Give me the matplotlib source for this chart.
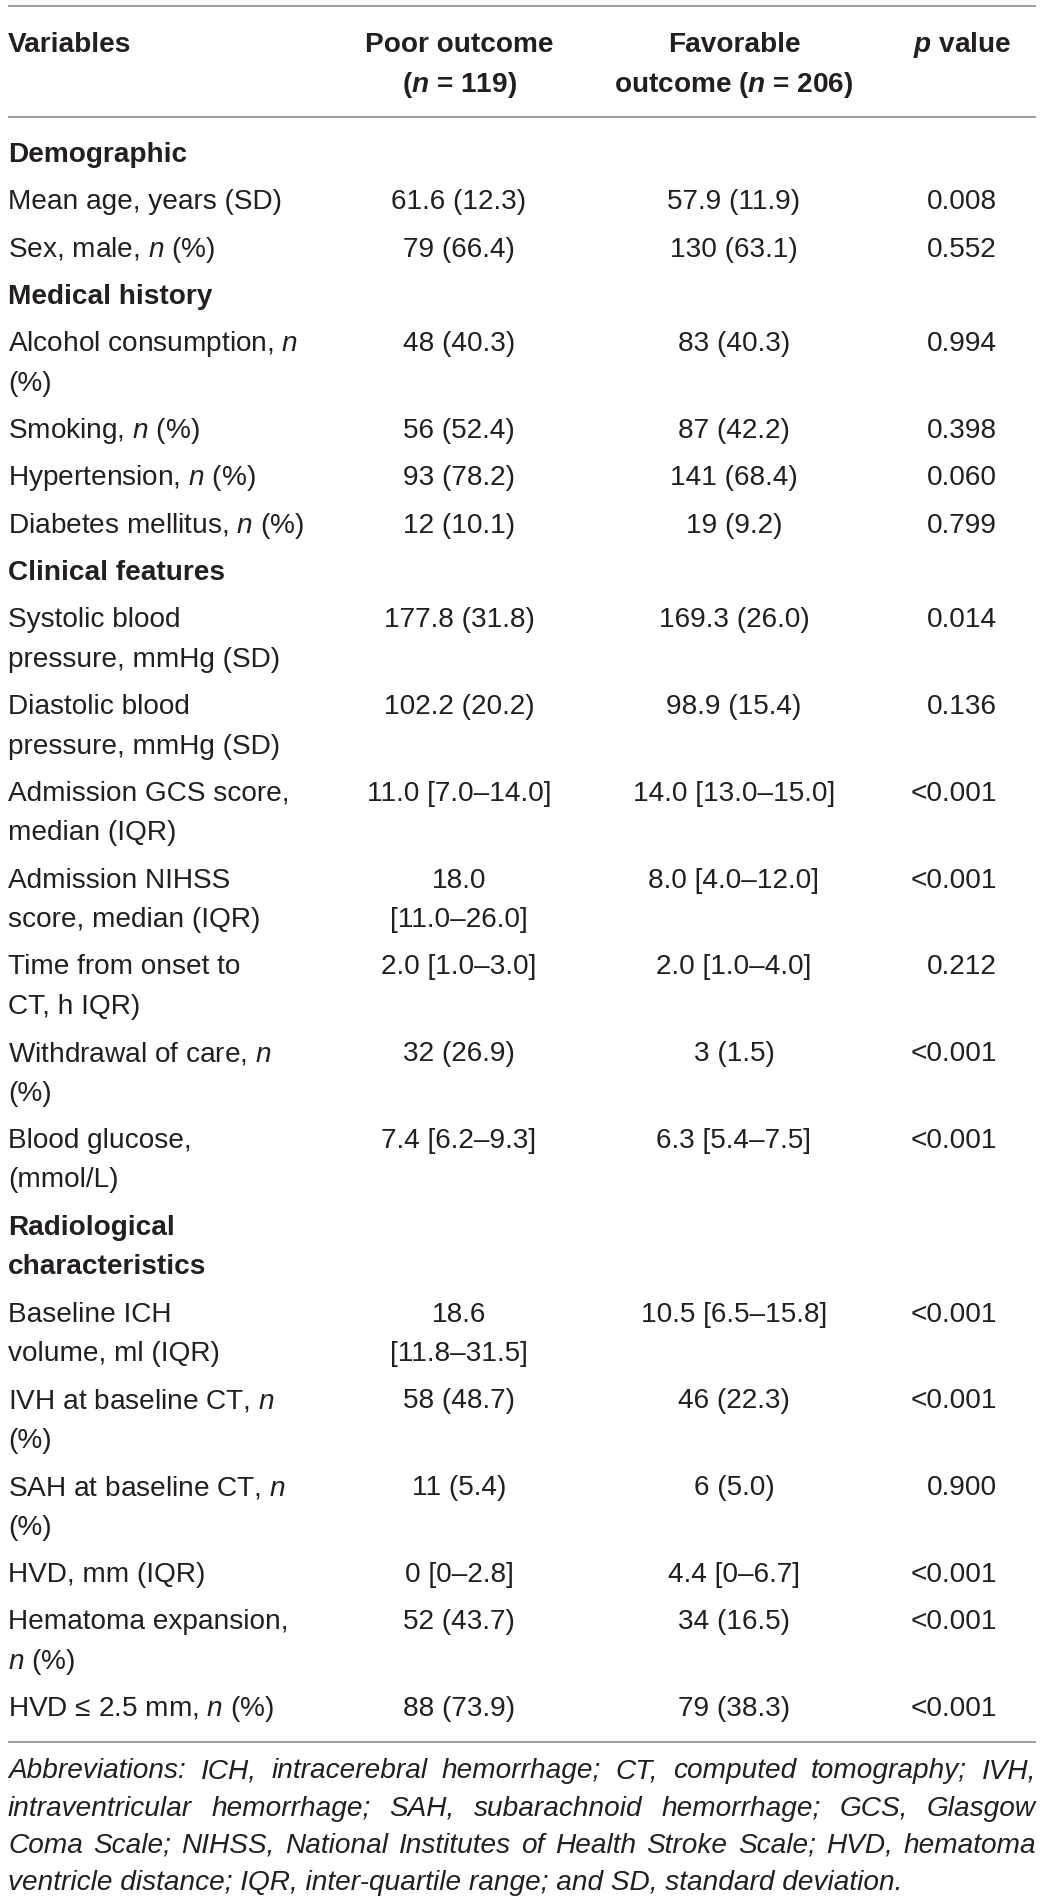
import matplotlib
matplotlib.use("Agg")
import matplotlib.pyplot as plt

plt.rcParams['font.family'] = ['Liberation Sans', 'DejaVu Sans']
plt.rcParams['mathtext.fontset'] = 'custom'
plt.rcParams['mathtext.rm'] = 'Liberation Sans'
plt.rcParams['mathtext.it'] = 'Liberation Sans:italic'
plt.rcParams['mathtext.bf'] = 'Liberation Sans:bold'
try:
    plt.rcParams['mathtext.bfit'] = 'Liberation Sans:italic:bold'
    BFIT = r'\mathbfit'
except KeyError:
    BFIT = r'\mathbf'

# ---------------- data ----------------
headers = ["Variables",
           "Poor outcome\n($" + BFIT + "{n}$ = 119)",
           "Favorable\noutcome ($" + BFIT + "{n}$ = 206)",
           "$" + BFIT + "{p}$ value"]

variables = [
    "Demographic",
    "Mean age, years (SD)",
    "Sex, male, $\\mathit{n}$ (%)",
    "Medical history",
    "Alcohol consumption, $\\mathit{n}$\n(%)",
    "Smoking, $\\mathit{n}$ (%)",
    "Hypertension, $\\mathit{n}$ (%)",
    "Diabetes mellitus, $\\mathit{n}$ (%)",
    "Clinical features",
    "Systolic blood\npressure, mmHg (SD)",
    "Diastolic blood\npressure, mmHg (SD)",
    "Admission GCS score,\nmedian (IQR)",
    "Admission NIHSS\nscore, median (IQR)",
    "Time from onset to\nCT, h IQR)",
    "Withdrawal of care, $\\mathit{n}$\n(%)",
    "Blood glucose,\n(mmol/L)",
    "Radiological\ncharacteristics",
    "Baseline ICH\nvolume, ml (IQR)",
    "IVH at baseline CT, $\\mathit{n}$\n(%)",
    "SAH at baseline CT, $\\mathit{n}$\n(%)",
    "HVD, mm (IQR)",
    "Hematoma expansion,\n$\\mathit{n}$ (%)",
    "HVD ≤ 2.5 mm, $\\mathit{n}$ (%)",
]

is_section = [True, False, False, True, False, False, False, False, True,
              False, False, False, False, False, False, False, True,
              False, False, False, False, False, False]

poor = ["", "61.6 (12.3)", "79 (66.4)", "", "48 (40.3)", "56 (52.4)",
        "93 (78.2)", "12 (10.1)", "", "177.8 (31.8)", "102.2 (20.2)",
        "11.0 [7.0–14.0]", "18.0\n[11.0–26.0]", "2.0 [1.0–3.0]",
        "32 (26.9)", "7.4 [6.2–9.3]", "", "18.6\n[11.8–31.5]",
        "58 (48.7)", "11 (5.4)", "0 [0–2.8]", "52 (43.7)", "88 (73.9)"]

favorable = ["", "57.9 (11.9)", "130 (63.1)", "", "83 (40.3)", "87 (42.2)",
             "141 (68.4)", "19 (9.2)", "", "169.3 (26.0)", "98.9 (15.4)",
             "14.0 [13.0–15.0]", "8.0 [4.0–12.0]", "2.0 [1.0–4.0]",
             "3 (1.5)", "6.3 [5.4–7.5]", "", "10.5 [6.5–15.8]",
             "46 (22.3)", "6 (5.0)", "4.4 [0–6.7]", "34 (16.5)", "79 (38.3)"]

p_values = ["", "0.008", "0.552", "", "0.994", "0.398", "0.060", "0.799", "",
            "0.014", "0.136", "<0.001", "<0.001", "0.212", "<0.001", "<0.001",
            "", "<0.001", "<0.001", "0.900", "<0.001", "<0.001", "<0.001"]

footnote_lines = [
    "Abbreviations: ICH, intracerebral hemorrhage; CT, computed tomography; IVH,",
    "intraventricular hemorrhage; SAH, subarachnoid hemorrhage; GCS, Glasgow",
    "Coma Scale; NIHSS, National Institutes of Health Stroke Scale; HVD, hematoma",
    "ventricle distance; IQR, inter-quartile range; and SD, standard deviation.",
]

# ---------------- layout ----------------
W, H = 1042, 1902
fig = plt.figure(figsize=(W / 100, H / 100), dpi=100)
ax = fig.add_axes([0, 0, 1, 1])
ax.set_xlim(0, W)
ax.set_ylim(H, 0)
ax.axis('off')

TXT = '#231f20'
LINE = '#959595'
FS = 20.2
x_left, x_right = 8, 1036
col_poor, col_fav, col_p_right, col_p_head = 459, 734, 997, 962

def hline(y):
    ax.plot([x_left, x_right], [y, y], color=LINE, lw=1.3, solid_capstyle='butt')

hline(5.5)
hline(117)

# header
head_base = [52, 92]
for i, h in enumerate(headers):
    for k, ln in enumerate(h.split('\n')):
        if i == 0:
            ax.text(x_left, head_base[k], ln, ha='left', va='baseline',
                    fontsize=FS, fontweight='bold', color=TXT)
        else:
            xc = [None, col_poor, col_fav, col_p_head][i]
            ax.text(xc, head_base[k], ln, ha='center', va='baseline',
                    fontsize=FS, fontweight='bold', color=TXT)

# body
row_gap = 47.3
line_gap = 39.5
y = 162
for i, var in enumerate(variables):
    vlines = var.split('\n')
    plines = poor[i].split('\n')
    flines = favorable[i].split('\n')
    weight = 'bold' if is_section[i] else 'normal'
    for k, ln in enumerate(vlines):
        ax.text(x_left, y + k * line_gap, ln, ha='left', va='baseline',
                fontsize=FS, fontweight=weight, color=TXT)
    for k, ln in enumerate(plines):
        if ln:
            ax.text(col_poor, y + k * line_gap, ln, ha='center', va='baseline',
                    fontsize=FS, color=TXT)
    for k, ln in enumerate(flines):
        if ln:
            ax.text(col_fav, y + k * line_gap, ln, ha='center', va='baseline',
                    fontsize=FS, color=TXT)
    if p_values[i]:
        ax.text(col_p_right, y, p_values[i], ha='right', va='baseline',
                fontsize=FS, color=TXT)
    nlines = max(len(vlines), len(plines), len(flines))
    y = y + (nlines - 1) * line_gap + row_gap

hline(1742)

# footnote (justified, italic)
renderer = fig.canvas.get_renderer()
foot_base = [1778, 1815.5, 1853, 1890.5]
for j, line in enumerate(footnote_lines):
    yb = foot_base[j]
    if j == len(footnote_lines) - 1:
        ax.text(x_left, yb, line, ha='left', va='baseline', fontsize=FS,
                style='italic', color=TXT)
        continue
    words = line.split(' ')
    widths = []
    for w in words:
        t = ax.text(0, 0, w, fontsize=FS, style='italic')
        widths.append(t.get_window_extent(renderer).width)
        t.remove()
    gap = (x_right - x_left - sum(widths)) / (len(words) - 1)
    x = x_left
    for w, wd in zip(words, widths):
        ax.text(x, yb, w, ha='left', va='baseline', fontsize=FS,
                style='italic', color=TXT)
        x += wd + gap

fig.savefig('out.png', dpi=100, facecolor='white')
